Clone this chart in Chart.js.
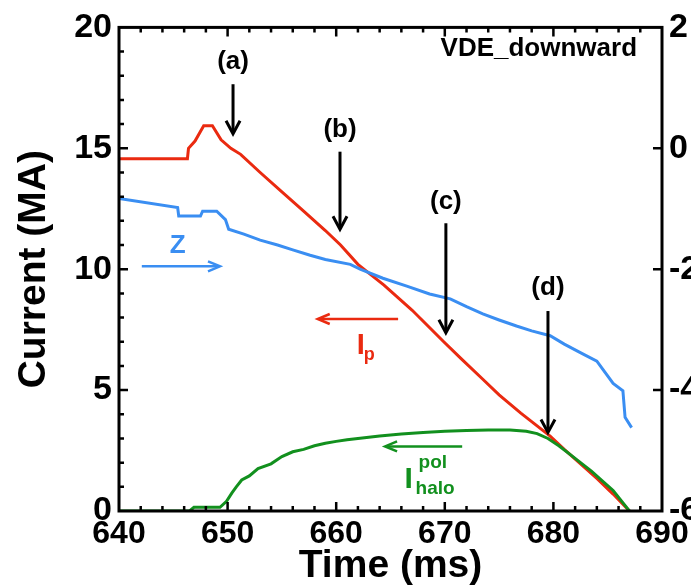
<!DOCTYPE html>
<html>
<head>
<meta charset="utf-8">
<script src="https://cdn.jsdelivr.net/npm/chart.js@4.4.0/dist/chart.umd.min.js"></script>
<style>
  html, body { margin: 0; padding: 0; background: #fff; overflow: hidden; }
  #wrap { width: 691px; height: 588px; overflow: hidden; }
</style>
</head>
<body>
<div id="wrap"><canvas id="myChart" width="720" height="588"></canvas></div>
<script>
// plasma current Ip (MA)
const ipTime = [640, 646.3, 646.4, 647.0, 647.8, 648.6, 649.4, 650.3, 651.2, 653, 655, 657, 659, 660.4, 662, 664.4, 667, 669.9, 671.5, 673.5, 675, 677, 679.7, 681, 682.5, 684, 685.5, 687];
const ipVal = [14.57, 14.57, 15.0, 15.3, 15.93, 15.93, 15.35, 15.0, 14.75, 14.0, 13.2, 12.4, 11.6, 11.0, 10.2, 9.34, 8.3, 7.0, 6.3, 5.45, 4.8, 4.05, 3.1, 2.55, 1.95, 1.35, 0.7, 0.0];

// vertical position Z (right axis)
const zTime = [640, 645.4, 645.5, 647.5, 647.7, 649.0, 649.8, 650.1, 651.5, 653, 654.6, 656, 657.6, 659, 661.3, 662.2, 664.3, 666.5, 668.6, 670.5, 672, 673.5, 675, 676.6, 678, 679.7, 681, 682.7, 684, 685.5, 686.4, 686.6, 687.2];
const zVal = [-0.83, -0.98, -1.12, -1.12, -1.04, -1.04, -1.18, -1.34, -1.42, -1.52, -1.60, -1.68, -1.77, -1.84, -1.92, -2.00, -2.15, -2.28, -2.41, -2.49, -2.62, -2.74, -2.84, -2.94, -3.02, -3.10, -3.24, -3.40, -3.52, -3.89, -4.01, -4.45, -4.62];

// poloidal halo current (MA)
const haloTime = [640, 646.5, 646.9, 649.3, 649.9, 650.4, 650.8, 651.3, 652, 652.8, 654, 655, 656, 657, 658, 659, 660, 661, 662, 664, 666, 668, 670, 672, 674, 676, 677.5, 678.5, 679.5, 680.5, 681.5, 682.5, 683.5, 684.5, 685.5, 686.3, 687];
const haloVal = [0, 0, 0.15, 0.15, 0.4, 0.75, 1.0, 1.28, 1.45, 1.75, 1.95, 2.25, 2.45, 2.55, 2.7, 2.8, 2.88, 2.95, 3.0, 3.1, 3.18, 3.25, 3.3, 3.33, 3.35, 3.35, 3.3, 3.2, 3.0, 2.7, 2.35, 2.0, 1.65, 1.25, 0.85, 0.4, 0.0];

// axis ticks
const timeTicks = [640, 650, 660, 670, 680, 690];
const currentTicks = [0, 5, 10, 15, 20];
const zTicks = [-6, -4, -2, 0, 2];

// phase markers (a)-(d)
const markNames = ['(a)', '(b)', '(c)', '(d)'];
const markTime = [650.5, 660.35, 670.1, 679.5];
const markLabelY = [18.56, 15.76, 12.8, 9.22];
const markTop = [17.65, 14.86, 11.9, 8.27];
const markTip = [15.6, 11.65, 7.37, 3.25];

const RED = '#ea2a10';
const BLUE = '#3a8ef2';
const GREEN = '#12901e';
const FAM = '"Liberation Sans", Arial, Helvetica, sans-serif';

function pts(xs, ys) {
  return xs.map((t, i) => ({ x: t, y: ys[i] }));
}

function arrow(ctx, x1, y1, x2, y2, color, lw, hl, hw) {
  const ang = Math.atan2(y2 - y1, x2 - x1);
  ctx.strokeStyle = color;
  ctx.lineWidth = lw;
  ctx.lineCap = 'butt';
  ctx.beginPath();
  ctx.moveTo(x1, y1);
  ctx.lineTo(x2 - Math.cos(ang) * 1, y2 - Math.sin(ang) * 1);
  ctx.stroke();
  ctx.beginPath();
  ctx.moveTo(x2 - hl * Math.cos(ang) + hw * Math.sin(ang), y2 - hl * Math.sin(ang) - hw * Math.cos(ang));
  ctx.lineTo(x2, y2);
  ctx.lineTo(x2 - hl * Math.cos(ang) - hw * Math.sin(ang), y2 - hl * Math.sin(ang) + hw * Math.cos(ang));
  ctx.stroke();
}

const decor = {
  id: 'decor',
  afterDatasetsDraw(chart) {
    const { ctx, chartArea: a } = chart;
    const x = chart.scales.x, y = chart.scales.y, z = chart.scales.z;
    ctx.save();

    // frame
    ctx.strokeStyle = '#000';
    ctx.lineWidth = 3;
    ctx.strokeRect(a.left, a.top, a.right - a.left, a.bottom - a.top);

    // inward ticks
    ctx.lineWidth = 2.5;
    ctx.beginPath();
    for (let t = 642; t < 690; t += 2) {
      const px = x.getPixelForValue(t);
      const len = t % 10 === 0 ? 9 : 5;
      ctx.moveTo(px, a.bottom); ctx.lineTo(px, a.bottom - len);
      ctx.moveTo(px, a.top); ctx.lineTo(px, a.top + len);
    }
    for (let v = 1; v < 20; v++) {
      const py = y.getPixelForValue(v);
      const len = v % 5 === 0 ? 9 : 5;
      ctx.moveTo(a.left, py); ctx.lineTo(a.left + len, py);
    }
    for (let k = 1; k < zTicks.length - 1; k++) {
      const py = z.getPixelForValue(zTicks[k]);
      ctx.moveTo(a.right, py); ctx.lineTo(a.right - 9, py);
    }
    ctx.stroke();

    // phase markers
    ctx.fillStyle = '#000';
    ctx.textAlign = 'center';
    ctx.textBaseline = 'middle';
    ctx.font = 'bold 26px ' + FAM;
    markNames.forEach((n, i) => {
      const px = x.getPixelForValue(markTime[i]);
      ctx.fillText(n, px, y.getPixelForValue(markLabelY[i]));
      arrow(ctx, px, y.getPixelForValue(markTop[i]), px, y.getPixelForValue(markTip[i]), '#000', 3, 13, 7);
    });

    // title
    ctx.textAlign = 'right';
    ctx.font = 'bold 26px ' + FAM;
    ctx.fillText('VDE_downward', x.getPixelForValue(687.7), y.getPixelForValue(19.1));

    // Z label + arrow
    ctx.fillStyle = BLUE;
    ctx.textAlign = 'center';
    ctx.font = 'bold 26px ' + FAM;
    ctx.fillText('Z', x.getPixelForValue(645.4), y.getPixelForValue(10.95));
    arrow(ctx, x.getPixelForValue(642.1), y.getPixelForValue(10.12), x.getPixelForValue(649.3), y.getPixelForValue(10.12), BLUE, 2.5, 12, 5);

    // Ip label + arrow
    arrow(ctx, x.getPixelForValue(665.7), y.getPixelForValue(7.94), x.getPixelForValue(658.3), y.getPixelForValue(7.94), RED, 2.5, 12, 5);
    ctx.fillStyle = RED;
    ctx.textAlign = 'left';
    ctx.textBaseline = 'alphabetic';
    let bx = x.getPixelForValue(661.9), by = y.getPixelForValue(6.5);
    ctx.font = 'bold 29px ' + FAM;
    ctx.fillText('I', bx, by);
    ctx.font = 'bold 18px ' + FAM;
    ctx.fillText('p', bx + ctx.measureText('I').width + 2, by + 6);

    // halo label + arrow
    arrow(ctx, x.getPixelForValue(671.6), y.getPixelForValue(2.67), x.getPixelForValue(664.5), y.getPixelForValue(2.67), GREEN, 2.5, 12, 5);
    ctx.fillStyle = GREEN;
    bx = x.getPixelForValue(666.3); by = y.getPixelForValue(0.95);
    ctx.font = 'bold 30px ' + FAM;
    ctx.fillText('I', bx, by);
    ctx.font = 'bold 19px ' + FAM;
    ctx.fillText('halo', bx + 11, by + 6);
    ctx.fillText('pol', bx + 14, by - 20);

    ctx.restore();
  }
};

const tickFont = { family: FAM, size: 32, weight: 'bold' };
const yTickFont = { family: FAM, size: 34, weight: 'bold' };

const config = {
  type: 'line',
  data: {
    datasets: [
      { label: 'halo', data: pts(haloTime, haloVal), borderColor: GREEN, yAxisID: 'y', order: 0 },
      { label: 'Z', data: pts(zTime, zVal), borderColor: BLUE, yAxisID: 'z', order: 1 },
      { label: 'Ip', data: pts(ipTime, ipVal), borderColor: RED, yAxisID: 'y', order: 2 }
    ]
  },
  options: {
    responsive: false,
    animation: false,
    devicePixelRatio: 1,
    layout: { padding: { top: 25, left: 0, right: 0, bottom: 0 } },
    elements: {
      line: { borderWidth: 3, tension: 0, fill: false },
      point: { radius: 0 }
    },
    plugins: { legend: { display: false }, tooltip: { enabled: false } },
    scales: {
      x: {
        type: 'linear', min: 640, max: 690,
        afterBuildTicks: s => { s.ticks = timeTicks.map(v => ({ value: v })); },
        afterFit: s => { s.height = 77; },
        grid: { display: false, drawTicks: false, tickLength: 0 },
        border: { display: false },
        ticks: { font: tickFont, color: '#000', padding: 4, maxRotation: 0, autoSkip: false },
        title: { display: true, text: 'Time (ms)', color: '#000', font: { family: FAM, size: 39, weight: 'bold', lineHeight: 1 }, padding: { top: 0, bottom: 2 } }
      },
      y: {
        type: 'linear', position: 'left', min: 0, max: 20,
        afterBuildTicks: s => { s.ticks = currentTicks.map(v => ({ value: v })); },
        afterFit: s => { s.width = 119; },
        grid: { display: false, drawTicks: false, tickLength: 0 },
        border: { display: false },
        ticks: { font: yTickFont, color: '#000', padding: 7 },
        title: { display: true, text: 'Current (MA)', color: '#000', font: { family: FAM, size: 39, weight: 'bold', lineHeight: 1 }, padding: { top: 15, bottom: 0 } }
      },
      z: {
        type: 'linear', position: 'right', min: -6, max: 2,
        afterBuildTicks: s => { s.ticks = zTicks.map(v => ({ value: v })); },
        afterFit: s => { s.width = 58; },
        grid: { display: false, drawTicks: false, tickLength: 0 },
        border: { display: false },
        ticks: { font: yTickFont, color: '#000', padding: 7 }
      }
    }
  },
  plugins: [decor]
};

const myChart = new Chart(document.getElementById('myChart').getContext('2d'), config);
</script>
</body>
</html>
